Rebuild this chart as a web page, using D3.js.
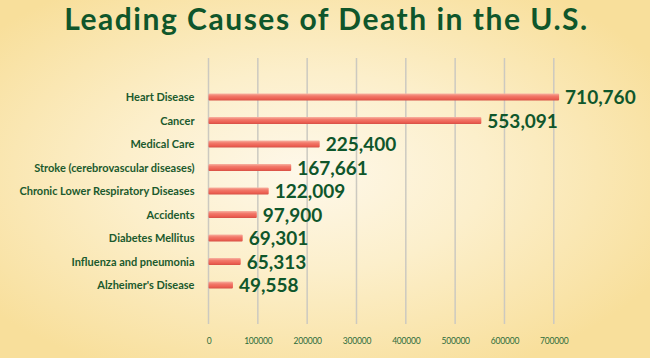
<!DOCTYPE html>
<html>
<head>
<meta charset="utf-8">
<script src="https://cdn.jsdelivr.net/npm/d3@7"></script>
<style>
html,body{margin:0;padding:0;overflow:hidden;}
svg{display:block;}
</style>
</head>
<body>
<svg id="chart" width="650" height="358"></svg>
<script>
// ---- data ----
const categories = [
  "Heart Disease",
  "Cancer",
  "Medical Care",
  "Stroke (cerebrovascular diseases)",
  "Chronic Lower Respiratory Diseases",
  "Accidents",
  "Diabetes Mellitus",
  "Influenza and pneumonia",
  "Alzheimer's Disease"
];
const values = [710760, 553091, 225400, 167661, 122009, 97900, 69301, 65313, 49558];
const tickValues = [0, 100000, 200000, 300000, 400000, 500000, 600000, 700000];
const titleText = "Leading Causes of Death in the U.S.";

// ---- layout ----
const W = 650, H = 358;
const svg = d3.select("#chart");
const defs = svg.append("defs");

const bg = defs.append("radialGradient").attr("id","bg")
  .attr("cx","47%").attr("cy","48%").attr("r","62%");
bg.append("stop").attr("offset","0%").attr("stop-color","#fef8ea");
bg.append("stop").attr("offset","45%").attr("stop-color","#fcefcb");
bg.append("stop").attr("offset","100%").attr("stop-color","#f8df9b");

const barGrad = defs.append("linearGradient").attr("id","bar")
  .attr("x1","0").attr("y1","0").attr("x2","0").attr("y2","1");
barGrad.append("stop").attr("offset","0%").attr("stop-color","#f8b3a2");
barGrad.append("stop").attr("offset","35%").attr("stop-color","#f27a6b");
barGrad.append("stop").attr("offset","75%").attr("stop-color","#ec5f52");
barGrad.append("stop").attr("offset","100%").attr("stop-color","#d65045");

svg.append("rect").attr("width",W).attr("height",H).attr("fill","url(#bg)");

const x = d3.scaleLinear().domain([0, 700000]).range([208.5, 553.8]);
const y = d3.scalePoint().domain(categories).range([97, 285]);
const barH = 7;
const green = "#0f562b";

// title
const title = svg.append("text")
  .attr("x", 326.5).attr("y", 30)
  .attr("text-anchor","middle")
  .attr("font-family","Lato, 'Open Sans', sans-serif")
  .attr("font-weight","700")
  .attr("font-size",30)
  .attr("fill", green)
  .text(titleText);
const tl = title.node().getComputedTextLength();
title.attr("letter-spacing", (523 - tl) / (titleText.length - 1));

// gridlines
svg.append("g").selectAll("line").data(tickValues).join("line")
  .attr("x1", d => x(d)).attr("x2", d => x(d))
  .attr("y1", 58).attr("y2", 324)
  .attr("stroke","#ccc9c0").attr("stroke-width",1.5);

// axis tick labels
const axis = d3.axisBottom(x).tickValues(tickValues).tickFormat(d3.format("d")).tickSize(0).tickPadding(0);
const ax = svg.append("g").attr("transform","translate(0,337.5)").call(axis);
ax.select(".domain").remove();
ax.selectAll("text")
  .attr("font-family","Lato, sans-serif")
  .attr("font-size",8.5)
  .attr("fill","#2c6b3a")
  .attr("letter-spacing","-0.2");

// bars
svg.append("g").selectAll("rect").data(values).join("rect")
  .attr("x", x(0))
  .attr("y", (d,i) => y(categories[i]) - barH/2)
  .attr("width", d => x(d) - x(0))
  .attr("height", barH)
  .attr("rx", 1)
  .attr("fill","url(#bar)");

// category labels
svg.append("g").selectAll("text").data(categories).join("text")
  .attr("x", 194.5)
  .attr("y", d => y(d) + 4)
  .attr("text-anchor","end")
  .attr("font-family","Lato, sans-serif")
  .attr("font-weight","700")
  .attr("font-size",11)
  .attr("fill","#1b5a2d")
  .text(d => d);

// value labels
svg.append("g").selectAll("text").data(values).join("text")
  .attr("x", d => x(d) + 6)
  .attr("y", (d,i) => y(categories[i]) + 7)
  .attr("font-family","Lato, sans-serif")
  .attr("font-weight","700")
  .attr("font-size",19)
  .attr("fill", green)
  .text(d => d3.format(",")(d));
</script>
</body>
</html>
